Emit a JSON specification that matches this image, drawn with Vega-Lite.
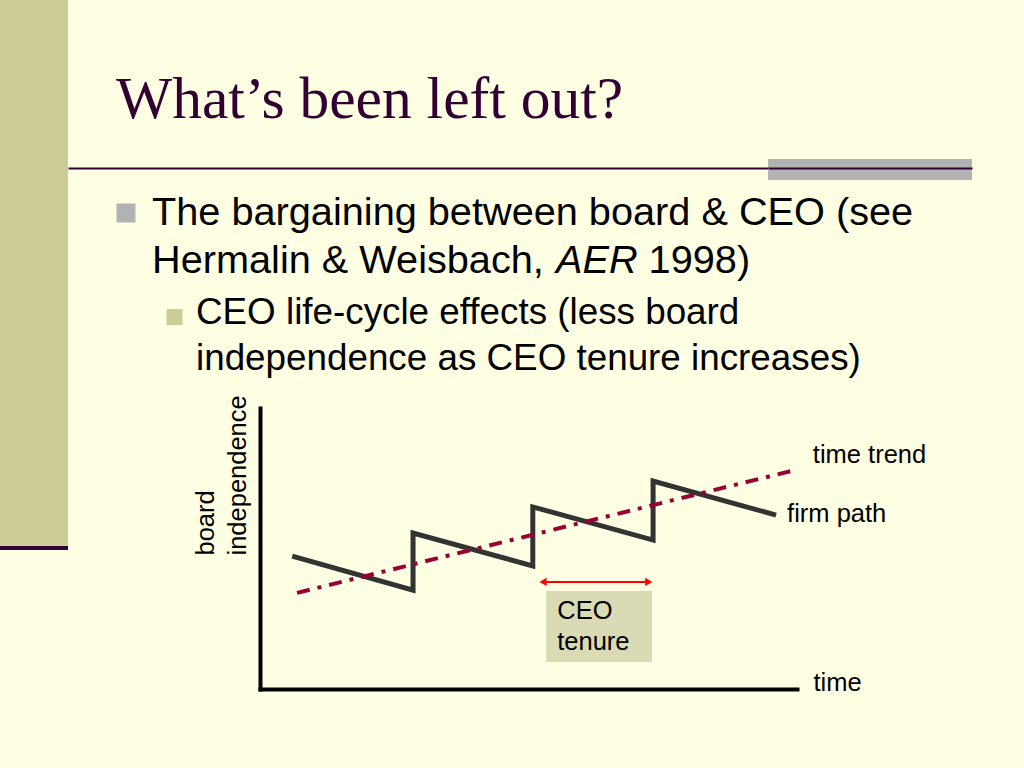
{
  "$schema": "https://vega.github.io/schema/vega-lite/v6.json",
  "background": "#FFFFE3",
  "padding": 0,
  "spacing": 0,
  "config": {"view": {"stroke": null}, "font": "Liberation Sans"},
  "datasets": {
    "path": [
      {"time": 0.6, "independence": 4.73, "seq": 1},
      {"time": 2.85, "independence": 3.52, "seq": 2},
      {"time": 2.85, "independence": 5.55, "seq": 3},
      {"time": 5.08, "independence": 4.38, "seq": 4},
      {"time": 5.08, "independence": 6.48, "seq": 5},
      {"time": 7.32, "independence": 5.3, "seq": 6},
      {"time": 7.32, "independence": 7.4, "seq": 7},
      {"time": 9.61, "independence": 6.19, "seq": 8}
    ],
    "trend": [
      {"time": 0.69, "independence": 3.42},
      {"time": 9.96, "independence": 7.79}
    ],
    "tenure": [
      {"time": 5.27, "timeEnd": 7.24, "independence": 3.81}
    ],
    "tenureBox": [
      {"time": 5.33, "timeEnd": 7.3, "independence": 3.49, "independenceLow": 0.96, "label": "CEO\ntenure"}
    ],
    "labels": [
      {"series": "time trend", "time": 9.96, "independence": 7.79},
      {"series": "firm path", "time": 9.61, "independence": 6.19}
    ]
  },
  "hconcat": [
    {
      "spacing": 0,
      "bounds": "flush",
      "vconcat": [
        {"width": 68, "height": 546, "data": {"values": []}, "mark": "rect", "view": {"fill": "#CCCC99"}},
        {"width": 68, "height": 4, "data": {"values": []}, "mark": "rect", "view": {"fill": "#330033"}}
      ]
    },
    {
      "spacing": 0,
      "vconcat": [
        {"width": 1, "height": 69, "data": {"values": []}, "mark": "rect"},
        {
          "title": {
            "text": "What’s been left out?",
            "anchor": "start",
            "frame": "group",
            "dx": 48,
            "offset": 28.6,
            "font": "Liberation Serif",
            "fontSize": 59.5,
            "fontWeight": "normal",
            "color": "#330033"
          },
          "spacing": 0,
          "bounds": "flush",
          "hconcat": [
            {
              "width": 700, "height": 9,
              "data": {"values": []},
              "mark": "point",
              "encoding": {
                "x": {"field": "rule", "type": "quantitative", "scale": {"domain": [0, 1]},
                      "axis": {"orient": "bottom", "title": null, "labels": false, "ticks": false, "grid": false, "domainColor": "#330033", "domainWidth": 2}}
              }
            },
            {
              "width": 204, "height": 21,
              "data": {"values": []},
              "mark": "point",
              "view": {"fill": "#B2B2B2"},
              "encoding": {
                "x": {"field": "rule", "type": "quantitative", "scale": {"domain": [0, 1]},
                      "axis": {"orient": "top", "offset": -9, "title": null, "labels": false, "ticks": false, "grid": false, "domainColor": "#330033", "domainWidth": 2}}
              }
            },
            {"width": 52, "height": 21, "data": {"values": []}, "mark": "rect"}
          ]
        },
        {"width": 1, "height": 12, "data": {"values": []}, "mark": "rect"},
        {
          "spacing": 0,
          "bounds": "flush",
          "hconcat": [
            {"width": 48, "height": 1, "data": {"values": []}, "mark": "rect"},
            {
              "width": 19, "height": 1,
              "data": {"values": []},
              "mark": "point",
              "encoding": {
                "x": {"field": "bullet", "type": "quantitative", "scale": {"domain": [0, 1]},
                      "axis": {"orient": "top", "offset": 195.5, "title": null, "labels": false, "ticks": false, "grid": false, "domainColor": "#B2B2B4", "domainWidth": 19}}
              }
            },
            {
              "width": 17, "height": 1, "data": {"values": []}, "mark": "rect",
              "title": {
                "text": "AER",
                "anchor": "start",
                "frame": "group",
                "dx": 421,
                "offset": 126.7,
                "font": "Liberation Sans",
                "fontSize": 39.7,
                "fontWeight": "normal",
                "fontStyle": "italic",
                "color": "#000000"
              }
            },
            {
              "width": 14, "height": 1, "data": {"values": []}, "mark": "rect",
              "title": {
                "text": ["The bargaining between board & CEO (see", "Hermalin & Weisbach,"],
                "anchor": "start",
                "frame": "group",
                "offset": 126.7,
                "font": "Liberation Sans",
                "fontSize": 39.7,
                "fontWeight": "normal",
                "color": "#000000",
                "lineHeight": 48
              }
            },
            {
              "width": 16, "height": 1,
              "data": {"values": []},
              "mark": "point",
              "encoding": {
                "x": {"field": "bullet", "type": "quantitative", "scale": {"domain": [0, 1]},
                      "axis": {"orient": "top", "offset": 91.5, "title": null, "labels": false, "ticks": false, "grid": false, "domainColor": "#CCCC99", "domainWidth": 16}}
              }
            },
            {
              "width": 14, "height": 1, "data": {"values": []}, "mark": "rect",
              "title": {
                "text": "1998)",
                "anchor": "start",
                "frame": "group",
                "dx": 466.6,
                "offset": 126.7,
                "font": "Liberation Sans",
                "fontSize": 39.7,
                "fontWeight": "normal",
                "color": "#000000"
              }
            },
            {
              "width": 64, "height": 1, "data": {"values": []}, "mark": "rect",
              "title": {
                "text": ["CEO life-cycle effects (less board", "independence as CEO tenure increases)"],
                "anchor": "start",
                "frame": "group",
                "offset": 30.3,
                "font": "Liberation Sans",
                "fontSize": 36.8,
                "fontWeight": "normal",
                "color": "#000000",
                "lineHeight": 46
              }
            },
            {
              "width": 537,
              "height": 281,
              "encoding": {
                "x": {
                  "field": "time",
                  "type": "quantitative",
                  "scale": {"domain": [0, 10], "nice": false, "zero": false},
                  "axis": {
                    "title": "time",
                    "domainColor": "#000000",
                    "domainWidth": 4,
                    "domainCap": "square",
                    "ticks": false,
                    "labels": false,
                    "grid": false,
                    "titleFont": "Liberation Sans",
                    "titleFontSize": 25.5,
                    "titleFontWeight": "normal",
                    "titleColor": "#000000",
                    "titleX": 553,
                    "titleY": 1,
                    "titleAlign": "left",
                    "titleBaseline": "alphabetic"
                  }
                },
                "y": {
                  "field": "independence",
                  "type": "quantitative",
                  "scale": {"domain": [0, 10], "nice": false, "zero": false},
                  "axis": {
                    "title": ["board", "independence"],
                    "domainColor": "#000000",
                    "domainWidth": 4,
                    "domainCap": "square",
                    "ticks": false,
                    "labels": false,
                    "grid": false,
                    "titleFont": "Liberation Sans",
                    "titleFontSize": 25.5,
                    "titleFontWeight": "normal",
                    "titleColor": "#000000",
                    "titleAngle": 270,
                    "titleAlign": "left",
                    "titleBaseline": "alphabetic",
                    "titleX": -47,
                    "titleY": 147,
                    "titleLineHeight": 32
                  }
                }
              },
              "layer": [
                {
                  "data": {"name": "tenureBox"},
                  "mark": {"type": "rect", "color": "#DADAB4"},
                  "encoding": {
                    "x2": {"field": "timeEnd"},
                    "y2": {"field": "independenceLow"}
                  }
                },
                {
                  "data": {"name": "tenureBox"},
                  "mark": {"type": "text", "align": "left", "baseline": "alphabetic", "dx": 11, "dy": 28, "lineBreak": "\n", "lineHeight": 31, "fontSize": 25.5, "font": "Liberation Sans", "color": "#000000"},
                  "encoding": {"text": {"field": "label"}}
                },
                {
                  "data": {"name": "path"},
                  "mark": {"type": "line", "color": "#333333", "strokeWidth": 5},
                  "encoding": {"order": {"field": "seq"}}
                },
                {
                  "data": {"name": "trend"},
                  "mark": {"type": "line", "color": "#990033", "strokeWidth": 4, "strokeDash": [13, 8, 4, 8]},
                  "encoding": {}
                },
                {
                  "data": {"name": "tenure"},
                  "mark": {"type": "rule", "color": "#FF0000", "strokeWidth": 2},
                  "encoding": {"x2": {"field": "timeEnd"}}
                },
                {
                  "data": {"name": "tenure"},
                  "transform": [{"fold": ["time", "timeEnd"], "as": ["endpoint", "time"]}],
                  "mark": {"type": "point", "filled": true, "color": "#FF0000", "size": 70, "opacity": 1},
                  "encoding": {
                    "shape": {
                      "field": "endpoint",
                      "type": "nominal",
                      "scale": {"domain": ["time", "timeEnd"], "range": ["triangle-left", "triangle-right"]},
                      "legend": null
                    }
                  }
                },
                {
                  "data": {"name": "labels"},
                  "transform": [{"filter": "datum.series === 'time trend'"}],
                  "mark": {"type": "text", "align": "left", "baseline": "middle", "dx": 18, "dy": -15, "fontSize": 25.5, "font": "Liberation Sans", "color": "#000000"},
                  "encoding": {"text": {"field": "series"}}
                },
                {
                  "data": {"name": "labels"},
                  "transform": [{"filter": "datum.series === 'firm path'"}],
                  "mark": {"type": "text", "align": "left", "baseline": "middle", "dx": 11, "dy": -1, "fontSize": 25.5, "font": "Liberation Sans", "color": "#000000"},
                  "encoding": {"text": {"field": "series"}}
                }
              ]
            }
          ]
        },
        {"width": 1, "height": 81, "data": {"values": []}, "mark": "rect"}
      ]
    }
  ]
}
